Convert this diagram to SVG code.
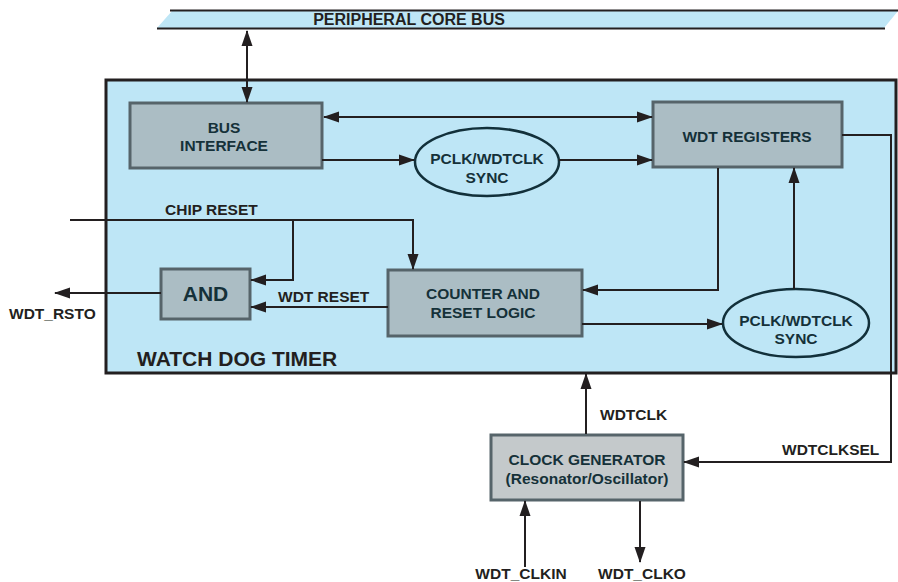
<svg xmlns="http://www.w3.org/2000/svg" width="898" height="582" viewBox="0 0 898 582">
<defs>
<marker id="ah" markerUnits="userSpaceOnUse" markerWidth="16" markerHeight="12" refX="15" refY="5.5" orient="auto-start-reverse" viewBox="0 0 16 11">
<path d="M0,0 L16,5.5 L0,11 z" fill="#231f20"/>
</marker>
<style>
text{font-family:"Liberation Sans",Arial,sans-serif;font-weight:bold;fill:#231f20}
.bt{fill:#153139;font-size:15.5px}
.lb{font-size:15.5px}
.box{fill:#abbdc4;stroke:#56646a;stroke-width:3}
.ell{fill:#bee6f6;stroke:#12303a;stroke-width:2.5}
.ln{fill:none;stroke:#231f20;stroke-width:2}
</style>
</defs>
<g id="bus">
<polygon points="172,11 898,11 884,28 157,28" fill="#bee6f6"/>
<line x1="170" y1="10.5" x2="898" y2="10.5" stroke="#231f20" stroke-width="2"/>
<line x1="157" y1="28.5" x2="885" y2="28.5" stroke="#231f20" stroke-width="2"/>
<text x="409" y="25" text-anchor="middle" font-size="16">PERIPHERAL CORE BUS</text>
</g>
<g id="wdt">
<rect x="106" y="80" width="790" height="293" fill="#bee6f6" stroke="#231f20" stroke-width="3"/>
<text x="137" y="366" font-size="21">WATCH DOG TIMER</text>
</g>
<g id="bus-interface">
<rect class="box" x="130" y="103" width="192" height="65"/>
<text class="bt" x="224" y="133" text-anchor="middle">BUS</text>
<text class="bt" x="224" y="151" text-anchor="middle">INTERFACE</text>
</g>
<g id="wdt-registers">
<rect class="box" x="653" y="102" width="189" height="65"/>
<text class="bt" x="747" y="142" text-anchor="middle">WDT REGISTERS</text>
</g>
<g id="sync1">
<ellipse class="ell" cx="487" cy="162" rx="72" ry="34"/>
<text class="bt" x="487" y="164" text-anchor="middle">PCLK/WDTCLK</text>
<text class="bt" x="487" y="183" text-anchor="middle">SYNC</text>
</g>
<g id="counter">
<rect class="box" x="388" y="270" width="194" height="66"/>
<text class="bt" x="483" y="299" text-anchor="middle">COUNTER AND</text>
<text class="bt" x="483" y="318" text-anchor="middle">RESET LOGIC</text>
</g>
<g id="sync2">
<ellipse class="ell" cx="796" cy="323" rx="73" ry="34"/>
<text class="bt" x="796" y="326" text-anchor="middle">PCLK/WDTCLK</text>
<text class="bt" x="796" y="344" text-anchor="middle">SYNC</text>
</g>
<g id="and">
<rect class="box" x="161" y="269" width="89" height="50"/>
<text x="205.5" y="301" text-anchor="middle" font-size="21" style="fill:#153139">AND</text>
</g>
<g id="clock-generator">
<rect x="491" y="435" width="192" height="65" fill="#c4c9cb" stroke="#56646a" stroke-width="3"/>
<text class="bt" x="587" y="465" text-anchor="middle">CLOCK GENERATOR</text>
<text class="bt" x="587" y="484" text-anchor="middle">(Resonator/Oscillator)</text>
</g>
<g id="connectors">
<line class="ln" x1="247" y1="31" x2="247" y2="102" marker-start="url(#ah)" marker-end="url(#ah)"/>
<line class="ln" x1="324" y1="117" x2="652" y2="117" marker-start="url(#ah)" marker-end="url(#ah)"/>
<line class="ln" x1="322" y1="160" x2="414" y2="160" stroke-width="3" marker-end="url(#ah)"/>
<line class="ln" x1="559" y1="160" x2="652" y2="160" marker-end="url(#ah)"/>
<polyline class="ln" points="842,135 891,135 891,462 684,462" marker-end="url(#ah)"/>
<polyline class="ln" points="718,168 718,290 583,290" marker-end="url(#ah)"/>
<line class="ln" x1="794" y1="289" x2="794" y2="168" marker-end="url(#ah)"/>
<line class="ln" x1="582" y1="324" x2="722" y2="324" marker-end="url(#ah)"/>
<polyline class="ln" points="70,220 413,220 413,269" marker-end="url(#ah)"/>
<polyline class="ln" points="293,220 293,280 251,280" marker-end="url(#ah)"/>
<line class="ln" x1="388" y1="307" x2="251" y2="307" marker-end="url(#ah)"/>
<line class="ln" x1="161" y1="293" x2="55" y2="293" marker-end="url(#ah)"/>
<line class="ln" x1="586" y1="434" x2="586" y2="374" marker-end="url(#ah)"/>
<line class="ln" x1="525" y1="567" x2="525" y2="501" marker-end="url(#ah)"/>
<line class="ln" x1="640" y1="501" x2="640" y2="562" marker-end="url(#ah)"/>
</g>
<g id="labels">
<text class="lb" x="165" y="215">CHIP RESET</text>
<text class="lb" x="278" y="302">WDT RESET</text>
<text class="lb" x="9" y="319">WDT_RSTO</text>
<text class="lb" x="600" y="420">WDTCLK</text>
<text class="lb" x="782" y="455">WDTCLKSEL</text>
<text class="lb" x="521" y="579" text-anchor="middle">WDT_CLKIN</text>
<text class="lb" x="642" y="579" text-anchor="middle">WDT_CLKO</text>
</g>
</svg>
